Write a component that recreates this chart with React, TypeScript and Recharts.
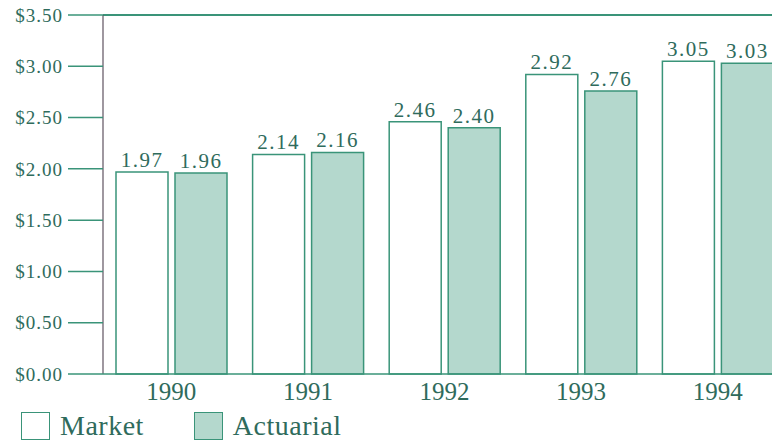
import { BarChart, Bar, XAxis, YAxis, ReferenceLine, Legend, LabelList } from "recharts";

const years = ["1990", "1991", "1992", "1993", "1994"];
const market = [1.97, 2.14, 2.46, 2.92, 3.05];
const actuarial = [1.96, 2.16, 2.4, 2.76, 3.03];
const yTicks = [0, 0.5, 1, 1.5, 2, 2.5, 3, 3.5];

const data = years.map((year, i) => ({ year, market: market[i], actuarial: actuarial[i] }));

const TEAL = "#3a9479";
const TEXT = "#2f6b5c";
const FILL = "#b4d8cd";
const FONT = "'Liberation Serif', serif";

function LegendBox() {
  const item = (label: string, fill: string, gap: number) => (
    <div style={{ display: "flex", alignItems: "center", marginRight: gap }}>
      <div
        style={{
          width: 29,
          height: 28,
          boxSizing: "border-box",
          border: `1.5px solid ${TEAL}`,
          background: fill,
          marginRight: 10,
        }}
      />
      <span style={{ fontFamily: FONT, fontSize: 28, color: TEXT, letterSpacing: 0.5 }}>{label}</span>
    </div>
  );
  return (
    <div style={{ display: "flex", alignItems: "center", height: 32 }}>
      {item("Market", "#ffffff", 50)}
      {item("Actuarial", FILL, 0)}
    </div>
  );
}

export default function App() {
  return (
    <div style={{ position: "absolute", left: 0, top: 0, width: 772, height: 442, overflow: "hidden", background: "#fff" }}>
      <BarChart
        width={786}
        height={442}
        data={data}
        margin={{ top: 15, right: 0, left: 0, bottom: 0 }}
        barSize={52}
        barGap={7}
      >
        <YAxis
          domain={[0, 3.5]}
          ticks={yTicks}
          width={103}
          tickSize={35}
          tickMargin={5}
          interval={0}
          tickFormatter={(v) => `$${Number(v).toFixed(2)}`}
          tick={{ fontSize: 19, fill: TEXT, fontFamily: FONT, letterSpacing: 1 }}
          tickLine={{ stroke: TEAL, strokeWidth: 1.5 }}
          axisLine={{ stroke: "#5e5260", strokeWidth: 1.2 }}
        />
        <XAxis
          dataKey="year"
          height={36}
          tickLine={false}
          tick={{ fontSize: 25, fill: TEXT, fontFamily: FONT }}
          axisLine={{ stroke: TEAL, strokeWidth: 1.5 }}
        />
        <ReferenceLine y={3.5} stroke={TEAL} strokeWidth={2} />
        <Legend
          verticalAlign="bottom"
          align="left"
          wrapperStyle={{ left: 21, width: "auto" }}
          content={() => <LegendBox />}
        />
        <Bar dataKey="market" name="Market" fill="#ffffff" stroke={TEAL} strokeWidth={1.5} isAnimationActive={false}>
          <LabelList
            dataKey="market"
            position="top"
            offset={5}
            formatter={(v: any) => Number(v).toFixed(2)}
            style={{ fontSize: 21, fill: TEXT, fontFamily: FONT, letterSpacing: 1.5 }}
          />
        </Bar>
        <Bar dataKey="actuarial" name="Actuarial" fill={FILL} stroke={TEAL} strokeWidth={1.5} isAnimationActive={false}>
          <LabelList
            dataKey="actuarial"
            position="top"
            offset={5}
            formatter={(v: any) => Number(v).toFixed(2)}
            style={{ fontSize: 21, fill: TEXT, fontFamily: FONT, letterSpacing: 1.5 }}
          />
        </Bar>
      </BarChart>
    </div>
  );
}
